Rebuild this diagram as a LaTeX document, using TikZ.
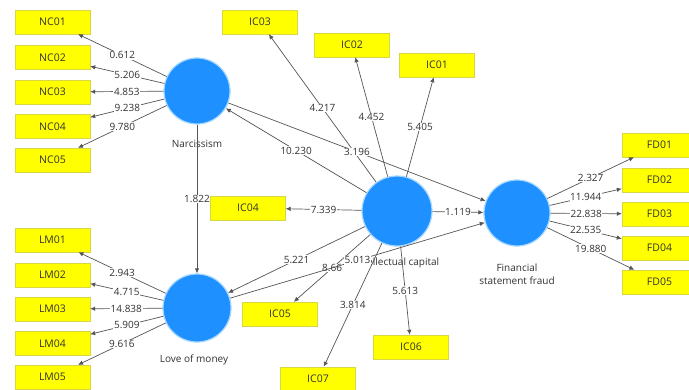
\documentclass[tikz,border=0pt]{standalone}
\usepackage{fontspec}
\setmainfont{Open Sans}
\usetikzlibrary{arrows.meta}
\definecolor{lvblue}{RGB}{30,144,255}
\definecolor{lvglow}{RGB}{165,215,255}
\definecolor{indyellow}{RGB}{255,255,0}
\definecolor{indedge}{RGB}{215,215,70}
\definecolor{edgegray}{RGB}{85,85,85}
\definecolor{txtgray}{RGB}{50,50,50}
\begin{document}
\begin{tikzpicture}[x=1pt,y=-1pt,
  latent/.style={circle,fill=lvblue,draw=lvglow,line width=1.2pt,inner sep=0pt},
  indic/.style={rectangle,fill=indyellow,draw=indedge,line width=0.4pt,minimum width=75pt,minimum height=24pt,inner sep=0pt,font=\fontsize{10.5}{12}\selectfont,text=txtgray},
  lvlabel/.style={font=\fontsize{10}{13}\selectfont,text=txtgray,align=center},
  conn/.style={draw=edgegray,line width=0.7pt,-{Latex[length=5pt,width=4.5pt]}},
  coef/.style={fill=white,inner sep=0.6pt,font=\fontsize{10}{11}\selectfont,text=txtgray,pos=0.5}
]
\useasboundingbox (0,0) rectangle (689,389);
\clip (0,0) rectangle (689,389);
\fill[white] (0,0) rectangle (689,389);

% latent variables
\node[latent,minimum size=66pt] (N) at (197,91) {};
\node[latent,minimum size=68pt] (L) at (197,308) {};
\node[latent,minimum size=70pt] (I) at (397,211) {};
\node[latent,minimum size=66pt] (F) at (517,213) {};

% latent labels
\node[lvlabel] (Nl) at (197,144) {Narcissism};
\node[lvlabel] (Ll) at (194,360) {Love of money};
\node[lvlabel] (Il) at (397,263) {Intellectual capital};
\node[lvlabel] (Fl) at (517,274) {Financial\\statement fraud};

% indicators
\node[indic] (NC01) at (52.5,22) {NC01};
\node[indic] (NC02) at (52.5,57.5) {NC02};
\node[indic] (NC03) at (52.5,92) {NC03};
\node[indic] (NC04) at (52.5,126.5) {NC04};
\node[indic] (NC05) at (52.5,160) {NC05};

\node[indic] (LM01) at (52.5,240) {LM01};
\node[indic] (LM02) at (52.5,275) {LM02};
\node[indic] (LM03) at (52.5,309) {LM03};
\node[indic] (LM04) at (52.5,343.5) {LM04};
\node[indic] (LM05) at (52.5,377) {LM05};

\node[indic] (IC01) at (437,65) {IC01};
\node[indic] (IC02) at (352,45) {IC02};
\node[indic] (IC03) at (260,22) {IC03};
\node[indic] (IC04) at (248,208) {IC04};
\node[indic] (IC05) at (280,314) {IC05};
\node[indic] (IC06) at (411,347) {IC06};
\node[indic] (IC07) at (318,379) {IC07};

\node[indic] (FD01) at (659.5,145) {FD01};
\node[indic] (FD02) at (659.5,180) {FD02};
\node[indic] (FD03) at (659.5,214) {FD03};
\node[indic] (FD04) at (659.5,248) {FD04};
\node[indic] (FD05) at (659.5,282) {FD05};

% outer loadings
\draw[conn] (N) -- node[coef]{0.612} (NC01);
\draw[conn] (N) -- node[coef]{5.206} (NC02);
\draw[conn] (N) -- node[coef]{4.853} (NC03);
\draw[conn] (N) -- node[coef]{9.238} (NC04);
\draw[conn] (N) -- node[coef]{9.780} (NC05);

\draw[conn] (L) -- node[coef]{2.943} (LM01);
\draw[conn] (L) -- node[coef]{4.715} (LM02);
\draw[conn] (L) -- node[coef]{14.838} (LM03);
\draw[conn] (L) -- node[coef]{5.909} (LM04);
\draw[conn] (L) -- node[coef]{9.616} (LM05);

\draw[conn] (I) -- node[coef]{5.405} (IC01);
\draw[conn] (I) -- node[coef]{4.452} (IC02);
\draw[conn] (I) -- node[coef]{4.217} (IC03);
\draw[conn] (I) -- node[coef]{7.339} (IC04);
\draw[conn] (I) -- node[coef]{8.66} (IC05);
\draw[conn] (I) -- node[coef]{5.613} (IC06);
\draw[conn] (I) -- node[coef]{3.814} (IC07);

\draw[conn] (F) -- node[coef]{2.327} (FD01);
\draw[conn] (F) -- node[coef]{11.944} (FD02);
\draw[conn] (F) -- node[coef]{22.838} (FD03);
\draw[conn] (F) -- node[coef]{22.535} (FD04);
\draw[conn] (F) -- node[coef]{19.880} (FD05);

% structural paths
\draw[conn] (N) -- node[coef]{1.822} (L);
\draw[conn] (I) -- node[coef]{10.230} (N);
\draw[conn] (N) -- node[coef]{3.196} (F);
\draw[conn] (I) -- node[coef]{5.221} (L);
\draw[conn] (L) -- node[coef]{5.013} (F);
\draw[conn] (I) -- node[coef]{1.119} (F);
\end{tikzpicture}
\end{document}
